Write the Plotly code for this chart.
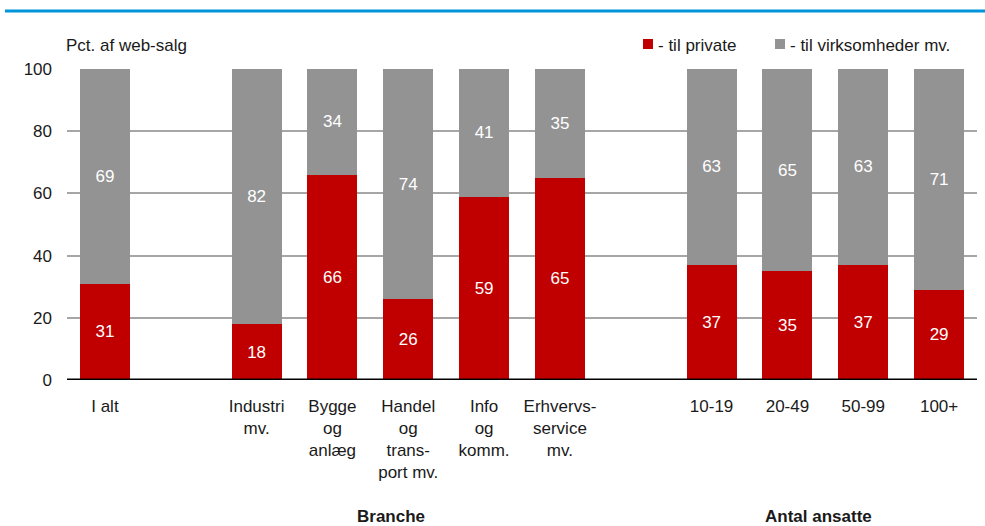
import plotly.graph_objects as go

categories = ["I alt", "", "Industri<br>mv.", "Bygge<br>og<br>anlæg", "Handel<br>og<br>trans-<br>port mv.",
              "Info<br>og<br>komm.", "Erhvervs-<br>service<br>mv.", " ", "10-19", "20-49", "50-99", "100+"]
private = [31, None, 18, 66, 26, 59, 65, None, 37, 35, 37, 29]
business = [69, None, 82, 34, 74, 41, 35, None, 63, 65, 63, 71]
series_names = ["- til private", "- til virksomheder mv."]
group_labels = ["Branche", "Antal ansatte"]
y_ticks = [0, 20, 40, 60, 80, 100]

FONT = "Liberation Sans, Arial, sans-serif"
FS = 17
TXT = "#1a1a1a"
RED = "#C00000"
GREY = "#939393"

W, H = 985, 526
L, R, T, B = 67, 8, 69, 146
pw, ph = W - L - R, H - T - B


def px(x):
    return (x - L) / pw


def py(y):
    return (H - B - y) / ph


xs = list(range(len(categories)))

fig = go.Figure()
for vals, name, col in [(private, series_names[0], RED), (business, series_names[1], GREY)]:
    fig.add_trace(go.Bar(
        x=xs, y=vals, name=name, marker=dict(color=col, line=dict(width=0)),
        text=[str(v) if v is not None else "" for v in vals], textposition="inside",
        insidetextanchor="middle", textangle=0,
        textfont=dict(color="white", size=FS, family=FONT),
        width=0.66, hoverinfo="skip", showlegend=False))

fig.update_layout(
    barmode="stack",
    width=W, height=H,
    margin=dict(l=L, r=R, t=T, b=B, autoexpand=False),
    paper_bgcolor="white", plot_bgcolor="white",
    font=dict(family=FONT, size=FS, color=TXT),
    uniformtext=dict(mode="show", minsize=FS),
    showlegend=False,
    xaxis=dict(range=[-0.5, 11.5], tickmode="array", tickvals=xs, ticktext=categories,
               showgrid=False, ticks="", showline=False, zeroline=False,
               ticklabelstandoff=14, fixedrange=True,
               tickfont=dict(size=FS, family=FONT, color=TXT)),
    yaxis=dict(range=[0, 100], tickmode="array", tickvals=y_ticks,
               showgrid=True, gridcolor="#A6A6A6", gridwidth=2, zeroline=False,
               showline=False, ticks="", ticklabelstandoff=14, fixedrange=True,
               tickfont=dict(size=FS, family=FONT, color=TXT)),
)

# zero axis line
fig.add_shape(type="line", xref="paper", yref="y", x0=0, x1=1, y0=0, y1=0,
              line=dict(color="black", width=3))
# top blue rule
fig.add_shape(type="line", xref="paper", yref="paper", x0=px(5), x1=px(990), y0=py(11), y1=py(11),
              line=dict(color="#0095DA", width=3))

# y-axis title
fig.add_annotation(text="Pct. af web-salg", xref="paper", yref="paper", x=px(64), y=py(45),
                   xanchor="left", yanchor="middle", showarrow=False,
                   font=dict(size=FS, family=FONT, color=TXT))

# custom legend
for (x0, col, name) in [(643, RED, series_names[0]), (775, GREY, series_names[1])]:
    fig.add_shape(type="rect", xref="paper", yref="paper", x0=px(x0), x1=px(x0 + 10),
                  y0=py(49), y1=py(39), fillcolor=col, line=dict(width=0))
    fig.add_annotation(text=name, xref="paper", yref="paper", x=px(x0 + 13), y=py(45),
                       xanchor="left", yanchor="middle", showarrow=False,
                       font=dict(size=FS, family=FONT, color=TXT))

# group labels
fig.add_annotation(text="<b>" + group_labels[0] + "</b>", xref="paper", yref="paper", x=px(391), y=py(516),
                   xanchor="center", yanchor="middle", showarrow=False,
                   font=dict(size=FS, family=FONT, color=TXT))
fig.add_annotation(text="<b>" + group_labels[1] + "</b>", xref="paper", yref="paper", x=px(818), y=py(516),
                   xanchor="center", yanchor="middle", showarrow=False,
                   font=dict(size=FS, family=FONT, color=TXT))

fig.write_html("out.html", config={"displayModeBar": False},
               post_script="document.body.style.margin='0';")
